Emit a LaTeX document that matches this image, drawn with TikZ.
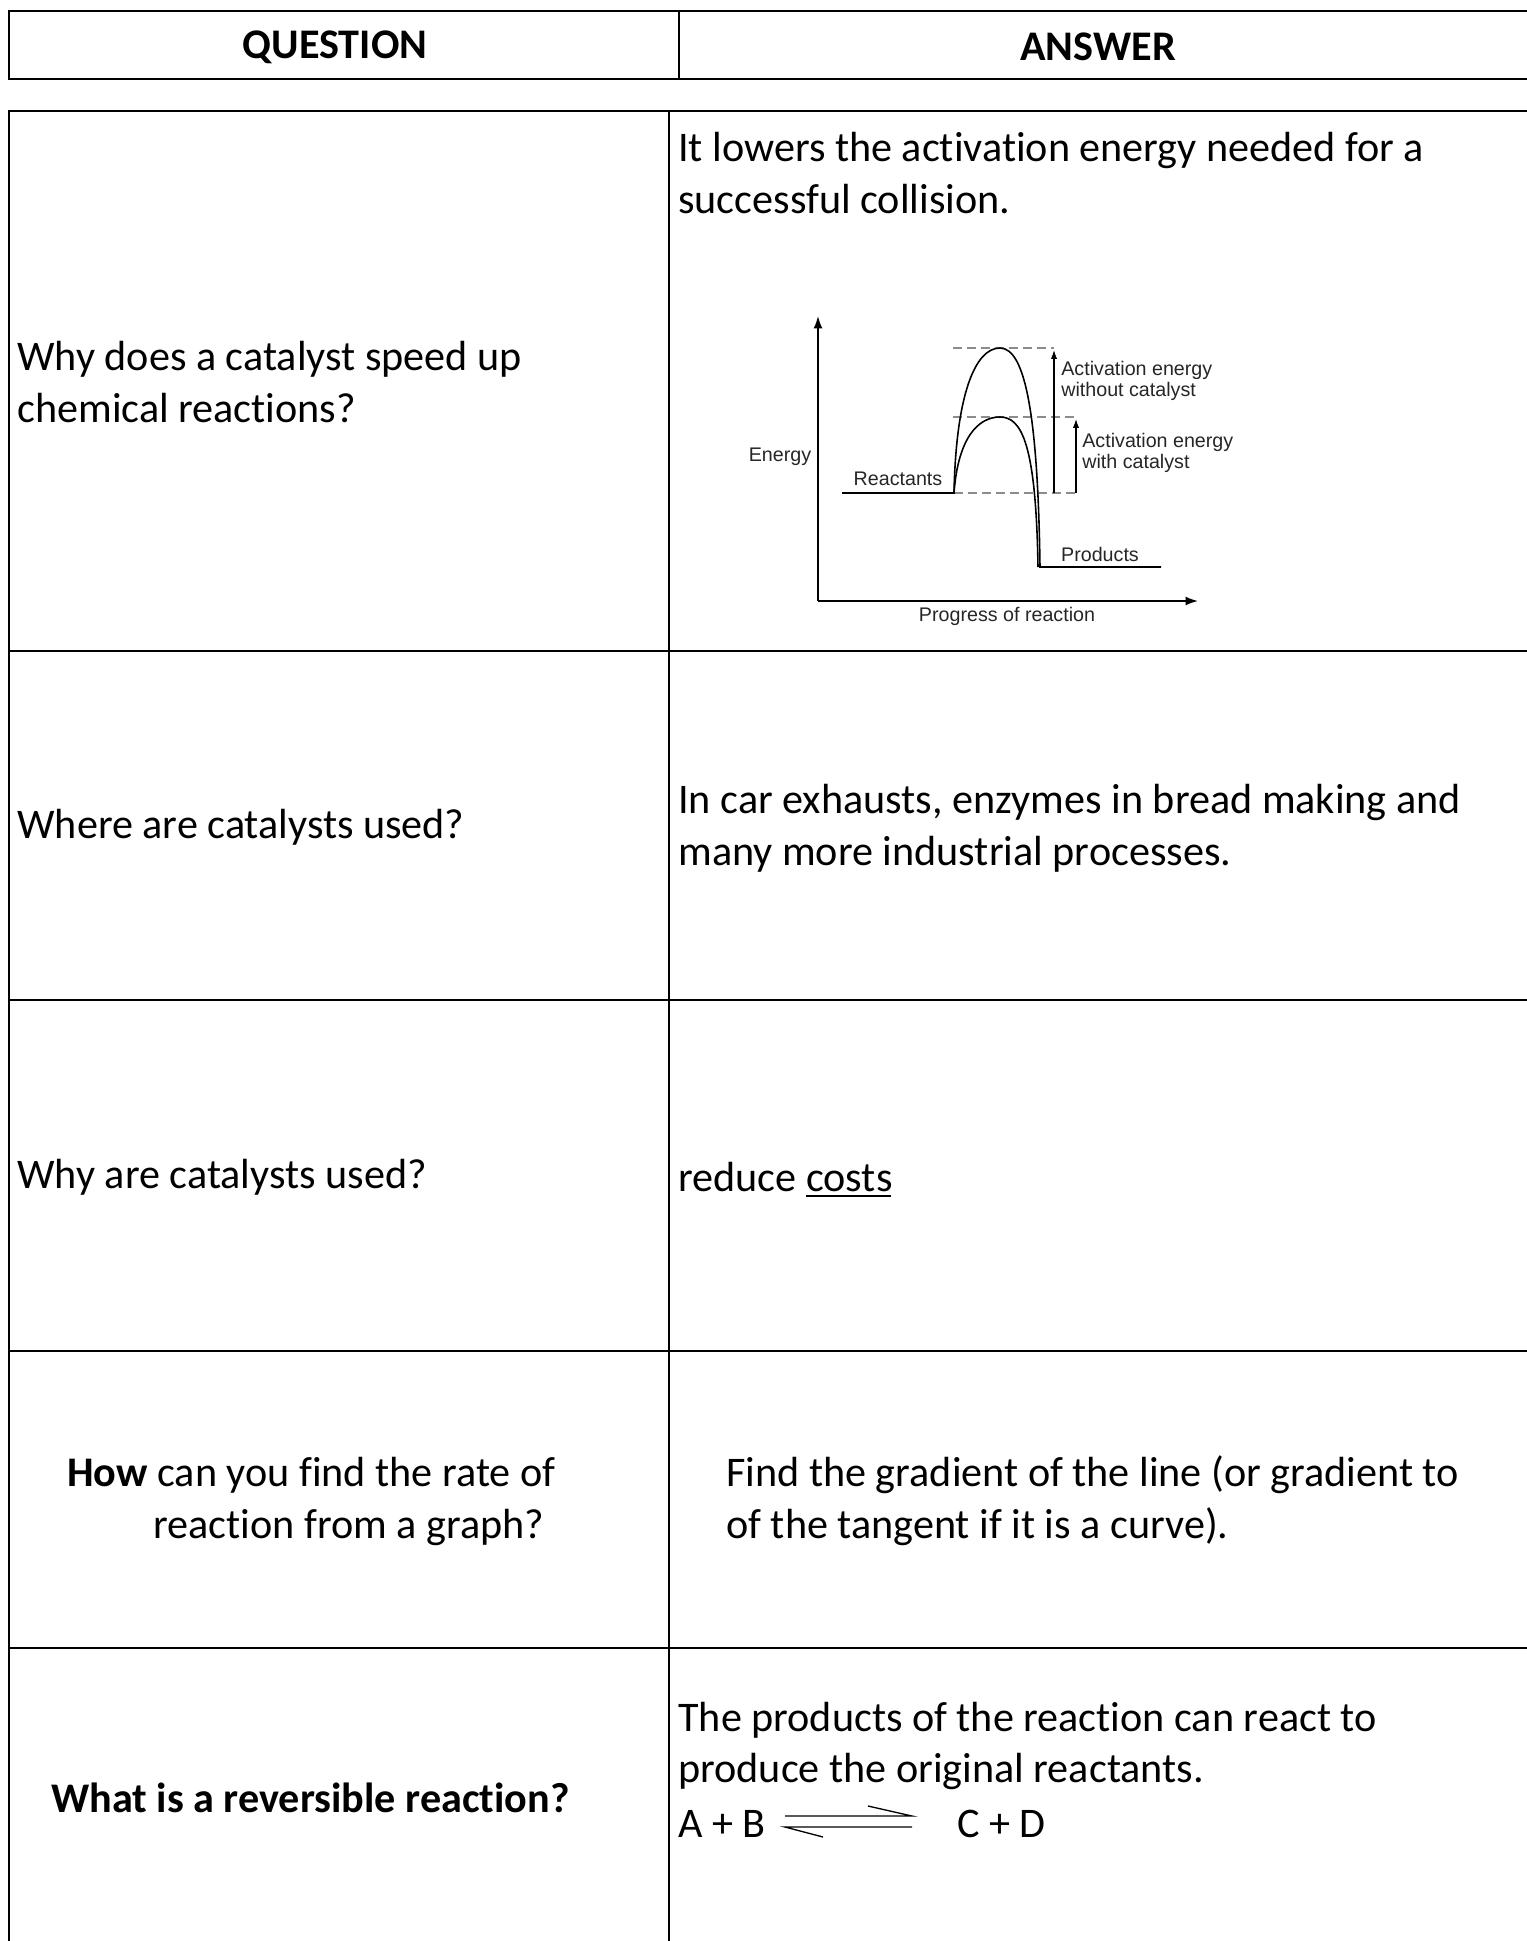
\documentclass[tikz,border=0pt]{standalone}
\usepackage{fontspec}
\setmainfont{Carlito}[Ligatures=NoCommon]
\newfontfamily\graphfont{Liberation Sans}
\usetikzlibrary{arrows.meta}
\tikzset{
  grid/.style={line width=1.1pt},
  cell/.style={anchor=west, align=left, inner sep=0pt, font=\fontsize{24}{29.5}\selectfont},
  headcell/.style={inner sep=0pt, font=\fontsize{24}{29.5}\selectfont\bfseries},
  graphlabel/.style={inner sep=0pt, align=left, font=\graphfont\fontsize{11.2}{12}\selectfont, text=black!85},
  curve/.style={line width=0.9pt},
  guide/.style={dash pattern=on 5pt off 3pt, black!45, line width=0.6pt},
}
\begin{document}
\begin{tikzpicture}[x=0.02cm, y=-0.02cm]
\useasboundingbox (0,0) rectangle (1526,1941);
% header
\draw[grid] (1540,11) -- (9,11) -- (9,79) -- (1540,79);
\draw[line width=0.9pt] (679,11) -- (679,79);
\node[headcell] (qhead) at (335,47) {QUESTION};
\node[headcell] (ahead) at (1098,47) {ANSWER};
% table body
\draw[grid] (1540,111) -- (9,111) -- (9,1960);
\draw[grid] (669,111) -- (669,1960);
\draw[grid] (9,651) -- (1540,651);
\draw[grid] (9,1000) -- (1540,1000);
\draw[grid] (9,1351) -- (1540,1351);
\draw[grid] (9,1648) -- (1540,1648);

% row 1
\node[cell] (q1) at (17,382) {Why does a catalyst speed up\\chemical reactions?};
\node[cell] (a1) at (678,173) {It lowers the activation energy needed for a\\successful collision.};
% energy graph
\draw[curve, -{Latex[length=7pt,width=5pt]}] (818,601) -- (818,316);
\draw[curve, -{Latex[length=7pt,width=5pt]}] (818,601) -- (1198,601);
\draw[guide] (953,348) -- (1054,348);
\draw[guide] (953,417) -- (1078,417);
\draw[guide] (954,493) -- (1078,493);
\draw[line width=0.6pt, -{Latex[length=5pt,width=3.5pt]}] (1054,493) -- (1054,350);
\draw[line width=0.6pt, -{Latex[length=5pt,width=3.5pt]}] (1076,493) -- (1076,419);
\draw[curve] (842,493) -- (954,493)
  .. controls (956,395) and (975,348) .. (1000,348)
  .. controls (1026,348) and (1038,420) .. (1040,567) -- (1161,567);
\draw[curve] (954,493)
  .. controls (958,438) and (978,417) .. (1000,417)
  .. controls (1022,417) and (1036,445) .. (1038,567);
\node[graphlabel] (energy) at (780,457) {Energy};
\node[graphlabel] (reactants) at (898,479) {Reactants};
\node[graphlabel] (products) at (1100,554) {Products};
\node[graphlabel] (progress) at (1007,616) {Progress of reaction};
\node[graphlabel, anchor=west] (eanocat) at (1061,381) {Activation energy\\without catalyst};
\node[graphlabel, anchor=west] (eacat) at (1082,453) {Activation energy\\with catalyst};

% row 2
\node[cell] (q2) at (17,827) {Where are catalysts used?};
\node[cell] (a2) at (678,828) {In car exhausts, enzymes in bread making and\\many more industrial processes.};

% row 3
\node[cell] (q3) at (17,1177) {Why are catalysts used?};
\node[cell] (a3) at (678,1177) {reduce costs};
\draw[line width=1.2pt] (806,1196) -- (891,1196);

% row 4
\node[cell] (q4a) at (67,1475) {\textbf{How} can you find the rate of};
\node[cell] (q4b) at (153,1527) {reaction from a graph?};
\node[cell] (a4) at (726,1501) {Find the gradient of the line (or gradient to\\of the tangent if it is a curve).};

% row 5
\node[cell, font=\fontsize{24}{29.5}\selectfont\bfseries] (q5) at (51,1798) {What is a reversible reaction?};
\node[cell] (a5) at (678,1746) {The products of the reaction can react to\\produce the original reactants.};
\node[cell] (ab) at (678,1824) {A + B};
\node[cell] (cd) at (957,1824) {C + D};
\draw[line width=0.75pt] (785,1816) -- (912,1816) -- (868,1806);
\draw[line width=0.75pt] (823,1837) -- (785,1827) -- (912,1827);
\end{tikzpicture}
\end{document}
